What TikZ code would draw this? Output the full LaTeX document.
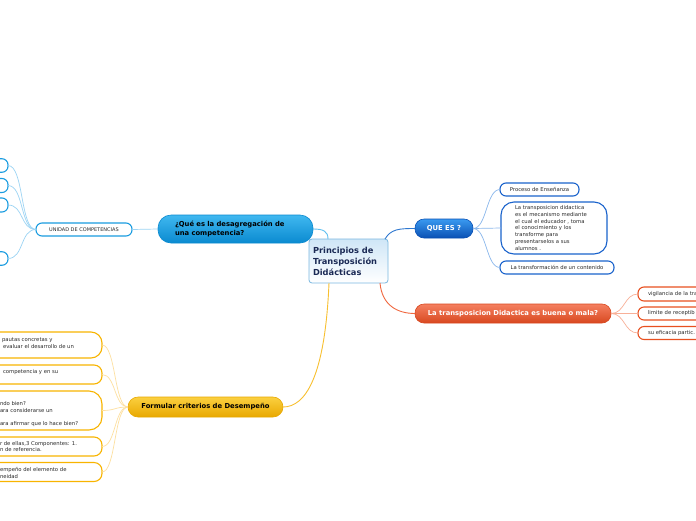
\documentclass[tikz,border=0pt]{standalone}
\usepackage{fontspec}
\setmainfont{DejaVu Sans}
\definecolor{qtop}{HTML}{3A9AF0}\definecolor{qbot}{HTML}{0A50B4}
\definecolor{qline}{HTML}{1A63CC}\definecolor{qconn}{HTML}{8BB8EC}\definecolor{qmain}{HTML}{2F78D0}
\definecolor{rtop}{HTML}{F58060}\definecolor{rbot}{HTML}{D84820}
\definecolor{rline}{HTML}{E85020}\definecolor{rconn}{HTML}{F8B098}\definecolor{rmain}{HTML}{F06840}
\definecolor{dtop}{HTML}{40B8F0}\definecolor{dbot}{HTML}{0A8AD0}
\definecolor{dline}{HTML}{1A9CE0}\definecolor{dconn}{HTML}{9CD4F4}\definecolor{dmain}{HTML}{60C0F0}
\definecolor{ytop}{HTML}{FBD040}\definecolor{ybot}{HTML}{E8A800}
\definecolor{yline}{HTML}{F8B400}\definecolor{yconn}{HTML}{FDE0A0}\definecolor{ymain}{HTML}{F8C030}
\definecolor{ctop}{HTML}{CFE6F7}\definecolor{cline}{HTML}{7AB8E0}\definecolor{ctext}{HTML}{1B2A55}
\definecolor{leaftext}{HTML}{2A2A2A}
\begin{document}
\begin{tikzpicture}[x=1pt,y=-1pt,
  every node/.style={inner sep=0pt,outer sep=0pt},
  leaffont/.style={font=\fontsize{5.3}{6.7}\selectfont,text=leaftext},
  mainfont/.style={font=\bfseries\fontsize{6.8}{8.4}\selectfont},
  leaf/.style={draw,line width=1.1pt,fill=white,leaffont},
  mainnode/.style={mainfont,line width=0.6pt},
  conn/.style={line width=0.7pt}]
\useasboundingbox (0,0) rectangle (696,520);
\clip (0,0) rectangle (696,520);
\fill[white] (0,0) rectangle (696,520);

% ---------- nodes ----------
\node[draw=cline,line width=0.8pt,rounded corners=3pt,top color=ctop,bottom color=white,
      minimum width=79pt,minimum height=44pt,text width=71pt,align=left,
      font=\bfseries\fontsize{8.3}{11}\selectfont,text=ctext] (c) at (348.5,261)
      {Principios de\\Transposición\\Didácticas};

\node[mainnode,draw=qbot,top color=qtop,bottom color=qbot,text=white,rounded corners=9pt,
      minimum width=58pt,minimum height=19pt] (q) at (444,228.5) {QUE ES ?};
\node[leaf,draw=qline,rounded corners=6pt,minimum width=79pt,minimum height=13pt] (q1) at (539.5,189.5) {Proceso de Enseñanza};
\node[leaf,draw=qline,rounded corners=13pt,minimum width=106pt,minimum height=52pt,text width=78pt,align=left] (q2) at (554,228)
  {La transposicion didactica\\es el mecanismo mediante\\el cual el educador , toma\\el conocimiento y los\\transforme para\\presentarselos a sus\\alumnos .};
\node[leaf,draw=qline,rounded corners=6pt,minimum width=114pt,minimum height=13pt] (q3) at (557,267.5) {La transformación de un contenido};

\node[mainnode,draw=rbot,top color=rtop,bottom color=rbot,text=white,rounded corners=9pt,
      minimum width=196pt,minimum height=19pt] (r) at (513,313.5) {La transposicion Didactica es buena o mala?};
\node[leaf,draw=rline,rounded corners=6pt,anchor=west,text width=100pt,inner xsep=10pt,minimum height=14pt,align=left] (r1) at (638,294) {vigilancia de la tra};
\node[leaf,draw=rline,rounded corners=6pt,anchor=west,text width=100pt,inner xsep=10pt,minimum height=13pt,align=left] (r2) at (638,313.5) {limite de receptib};
\node[leaf,draw=rline,rounded corners=6pt,anchor=west,text width=100pt,inner xsep=10pt,minimum height=13pt,align=left] (r3) at (638,333) {su eficacia partic.};

\node[mainnode,draw=dbot,top color=dtop,bottom color=dbot,text=black,rounded corners=13pt,
      minimum width=155pt,minimum height=28pt,text width=121pt,align=left] (d) at (235.5,229)
      {¿Qué es la desagregación de\\una competencia?};
\node[leaf,draw=dline,rounded corners=6pt,minimum width=96pt,minimum height=13pt,font=\fontsize{5}{6}\selectfont] (u) at (84,229.5) {UNIDAD DE COMPETENCIAS};
\node[leaf,draw=dline,rounded corners=6pt,anchor=east,minimum width=60pt,minimum height=13.5pt] (u1) at (8,165.5) {};
\node[leaf,draw=dline,rounded corners=6pt,anchor=east,minimum width=60pt,minimum height=14pt] (u2) at (8,185.5) {};
\node[leaf,draw=dline,rounded corners=6pt,anchor=east,minimum width=60pt,minimum height=14pt] (u3) at (8,205) {};
\node[leaf,draw=dline,rounded corners=6pt,anchor=east,minimum width=60pt,minimum height=13.5pt] (u4) at (8,258.5) {};

\node[mainnode,draw=ybot,top color=ytop,bottom color=ybot,text=black,rounded corners=10pt,
      minimum width=155pt,minimum height=20pt] (y) at (205.5,407) {Formular criterios de Desempeño};
\node[leaf,draw=yline,rounded corners=11pt,anchor=east,minimum width=200pt,minimum height=26pt] (y1) at (102,345) {};
\node[leaf,draw=yline,rounded corners=8pt,anchor=east,minimum width=200pt,minimum height=19pt] (y2) at (102,374.5) {};
\node[leaf,draw=yline,rounded corners=13pt,anchor=east,minimum width=200pt,minimum height=39pt] (y3) at (102,410.5) {};
\node[leaf,draw=yline,rounded corners=8pt,anchor=east,minimum width=200pt,minimum height=19pt] (y4) at (102,446.5) {};
\node[leaf,draw=yline,rounded corners=8pt,anchor=east,minimum width=200pt,minimum height=19pt] (y5) at (102,472) {};
\node[leaffont,anchor=west,align=left] (y1t) at (2,343) {pautas concretas y\\\hspace*{1pt}evaluar el desarrollo de un};
\node[leaffont,anchor=west,align=left] (y2t) at (3,372) {competencia y en su};
\node[leaffont,anchor=west,align=left] (y3t) at (0,414) {ndo bien?\\ara considerarse un\\\mbox{}\\ara afirmar que lo hace bien?};
\node[leaffont,anchor=west,align=left] (y4t) at (0,446.5) {r de ellas,3 Componentes: 1.\\n de referencia.};
\node[leaffont,anchor=west,align=left] (y5t) at (0,473) {empeño del elemento de\\neidad};

% ---------- connectors ----------
\draw[conn,qmain,line width=0.9pt] ([xshift=-3pt]c.north east) .. controls +(6,-10) and +(-16,0) .. (q.west);
\foreach \n in {q1,q2,q3}
  \draw[conn,qconn] (q.east) .. controls +(14,0) and +(-14,0) .. (\n.west);

\draw[conn,rmain,line width=0.9pt] ([xshift=-8pt]c.south east) .. controls +(2,22) and +(-18,0) .. (r.west);
\foreach \n in {r1,r2,r3}
  \draw[conn,rconn] (r.east) .. controls +(14,0) and +(-14,0) .. (\n.west);

\draw[conn,dmain,line width=0.9pt] (d.east) .. controls +(10,0) and +(0,-8) .. ([xshift=19pt]c.north west);
\draw[conn,dconn] (d.west) -- (u.east);
\foreach \n in {u1,u2,u3,u4}
  \draw[conn,dconn] (u.west) .. controls +(-16,0) and +(16,0) .. (\n.east);

\draw[conn,ymain,line width=0.9pt] ([xshift=-19.5pt]c.south) .. controls +(-4,95) and +(22,0) .. (y.east);
\foreach \n in {y1,y2,y3,y4,y5}
  \draw[conn,yconn] (y.west) .. controls +(-14,0) and +(14,0) .. (\n.east);
\end{tikzpicture}
\end{document}
